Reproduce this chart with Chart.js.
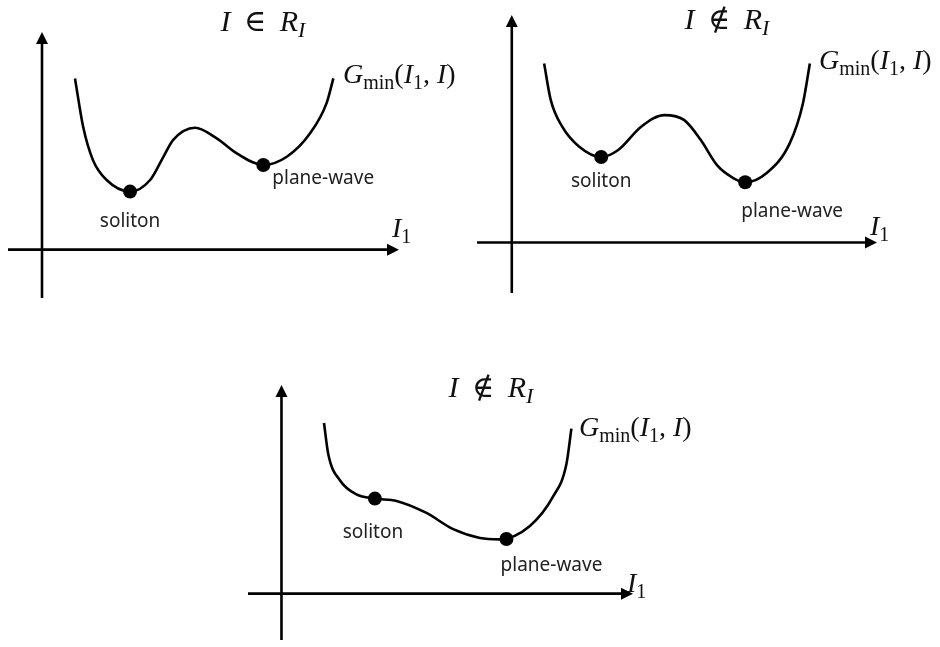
<!DOCTYPE html>
<html>
<head>
<meta charset="utf-8">
<script src="https://cdn.jsdelivr.net/npm/chart.js@4"></script>
<style>
  body { margin: 0; background: #fff; }
  #wrap { position: relative; width: 940px; height: 647px; overflow: hidden; }
  canvas { position: absolute; }
</style>
</head>
<body>
<div id="wrap">
  <canvas id="c1" width="470" height="320" style="left:0;top:0"></canvas>
  <canvas id="c2" width="470" height="320" style="left:470px;top:0"></canvas>
  <canvas id="c3" width="460" height="277" style="left:240px;top:370px"></canvas>
</div>
<script>
// point labels
const markLabels = ['soliton', 'plane-wave'];

// panel 1: I in R_I
const p1X = [0.97, 1.21, 1.50, 1.90, 2.59, 3.18, 3.57, 3.86, 4.50, 5.14, 5.73, 6.51, 7.20, 7.88, 8.37, 8.57];
const p1Y = [3.54, 2.54, 1.85, 1.44, 1.20, 1.44, 1.92, 2.27, 2.52, 2.30, 1.99, 1.75, 1.92, 2.40, 3.03, 3.54];
const p1MarkX = [2.59, 6.51];
const p1MarkY = [1.20, 1.75];

// panel 2: I not in R_I, two minima
const p2X = [0.93, 1.12, 1.45, 1.93, 2.57, 3.06, 3.72, 4.39, 4.96, 5.43, 5.90, 6.38, 6.71, 7.32, 7.99, 8.37, 8.57];
const p2Y = [3.54, 2.82, 2.29, 1.90, 1.69, 1.83, 2.29, 2.52, 2.42, 2.03, 1.53, 1.27, 1.19, 1.37, 1.96, 2.75, 3.54];
const p2MarkX = [2.57, 6.71];
const p2MarkY = [1.69, 1.19];

// panel 3: I not in R_I, soliton not a minimum
const p3X = [1.27, 1.40, 1.75, 2.24, 2.79, 3.44, 4.33, 5.13, 5.93, 6.50, 7.42, 8.11, 8.51, 8.66];
const p3Y = [3.68, 3.00, 2.44, 2.14, 2.05, 2.00, 1.74, 1.39, 1.20, 1.17, 1.46, 2.09, 2.79, 3.56];
const p3MarkX = [2.79, 6.72];
const p3MarkY = [2.05, 1.18];

const SERIF = "'Liberation Serif', 'DejaVu Serif', serif";
const SANS = "'Noto Sans', 'Open Sans', sans-serif";

const panels = [
    { id: 'c1', xs: p1X, ys: p1Y, mx: p1MarkX, my: p1MarkY, rel: '\u2208',
      pad: { left: 8, top: 32, right: 71, bottom: 22 },
      title: [263, 31], gmin: [343, 83], i1: [392, 237],
      labelOff: [[0, 30, 'center'], [9, 14, 'left']] },
    { id: 'c2', xs: p2X, ys: p2Y, mx: p2MarkX, my: p2MarkY, rel: '\u2209',
      pad: { left: 2, top: 15, right: 63, bottom: 27 },
      title: [257, 29], gmin: [349, 69], i1: [400, 235],
      labelOff: [[0, 25, 'center'], [47, 29, 'center']] },
    { id: 'c3', xs: p3X, ys: p3Y, mx: p3MarkX, my: p3MarkY, rel: '\u2209',
      pad: { left: 8, top: 15, right: 67, bottom: 0 },
      title: [251, 27], gmin: [339, 66], i1: [387, 222],
      labelOff: [[-2, 34, 'center'], [45, 27, 'center']] }
];

// draw a run of math pieces: {t, it, sub}
function drawMath(ctx, parts, x, y, size, align) {
    const subSize = Math.round(size * 0.72);
    const fontOf = p => (p.it ? 'italic ' : '') + (p.sub ? subSize : size) + 'px ' + SERIF;
    let total = 0;
    parts.forEach(p => { ctx.font = fontOf(p); total += ctx.measureText(p.t).width; });
    let cx = align === 'center' ? x - total / 2 : x;
    ctx.textAlign = 'left';
    ctx.textBaseline = 'alphabetic';
    parts.forEach(p => {
        ctx.font = fontOf(p);
        ctx.fillText(p.t, cx, p.sub ? y + size * 0.2 : y);
        cx += ctx.measureText(p.t).width;
    });
}

function arrowHead(ctx, x, y, dx, dy) {
    const len = 12, half = 6;
    ctx.beginPath();
    ctx.moveTo(x, y);
    ctx.lineTo(x - dx * len - dy * half, y - dy * len + dx * half);
    ctx.lineTo(x - dx * len + dy * half, y - dy * len - dx * half);
    ctx.closePath();
    ctx.fill();
}

const sketchPlugin = {
    id: 'sketch',
    beforeDatasetsDraw(chart, args, opts) {
        const { ctx, chartArea: a, scales: { x, y } } = chart;
        const ox = x.getPixelForValue(0), oy = y.getPixelForValue(0);
        ctx.save();
        ctx.strokeStyle = '#000';
        ctx.fillStyle = '#000';
        ctx.lineWidth = 2.6;
        ctx.beginPath();
        ctx.moveTo(a.left, oy);
        ctx.lineTo(a.right - 10, oy);
        ctx.moveTo(ox, a.bottom);
        ctx.lineTo(ox, a.top + 10);
        ctx.stroke();
        arrowHead(ctx, a.right, oy, 1, 0);
        arrowHead(ctx, ox, a.top, 0, -1);
        ctx.restore();
    },
    afterDatasetsDraw(chart, args, opts) {
        const { ctx, scales: { x, y } } = chart;
        const p = opts.panel;
        ctx.save();
        ctx.fillStyle = '#111';
        drawMath(ctx, [{ t: 'I', it: true }, { t: ' \u2009' + p.rel + ' \u2009' }, { t: 'R', it: true }, { t: 'I', it: true, sub: true }],
            p.title[0], p.title[1], 30, 'center');
        drawMath(ctx, [{ t: 'G', it: true }, { t: 'min', sub: true }, { t: '(' }, { t: 'I', it: true }, { t: '1', sub: true },
            { t: ', ' }, { t: 'I', it: true }, { t: ')' }], p.gmin[0], p.gmin[1], 28, 'left');
        drawMath(ctx, [{ t: 'I', it: true }, { t: '1', sub: true }], p.i1[0], p.i1[1], 28, 'left');

        ctx.font = '19px ' + SANS;
        ctx.fillStyle = '#222';
        ctx.textBaseline = 'middle';
        markLabels.forEach((lab, i) => {
            const off = p.labelOff[i];
            ctx.textAlign = off[2];
            ctx.fillText(lab, x.getPixelForValue(p.mx[i]) + off[0], y.getPixelForValue(p.my[i]) + off[1]);
        });
        ctx.restore();
    }
};

panels.forEach(p => {
    new Chart(document.getElementById(p.id), {
        type: 'line',
        data: {
            datasets: [{
                data: p.xs.map((v, i) => ({ x: v, y: p.ys[i] })),
                borderColor: '#000',
                borderWidth: 2.6,
                pointRadius: 0,
                cubicInterpolationMode: 'monotone',
                fill: false
            }, {
                data: p.mx.map((v, i) => ({ x: v, y: p.my[i] })),
                showLine: false,
                pointRadius: 7,
                pointBackgroundColor: '#000',
                pointBorderWidth: 0
            }]
        },
        options: {
            responsive: false,
            animation: false,
            events: [],
            devicePixelRatio: 1,
            layout: { padding: p.pad },
            plugins: { legend: { display: false }, tooltip: { enabled: false }, sketch: { panel: p } },
            scales: {
                x: { type: 'linear', min: -1, max: 10.5, display: false },
                y: { min: -1, max: 4.5, display: false }
            }
        },
        plugins: [sketchPlugin]
    });
});
</script>
</body>
</html>
